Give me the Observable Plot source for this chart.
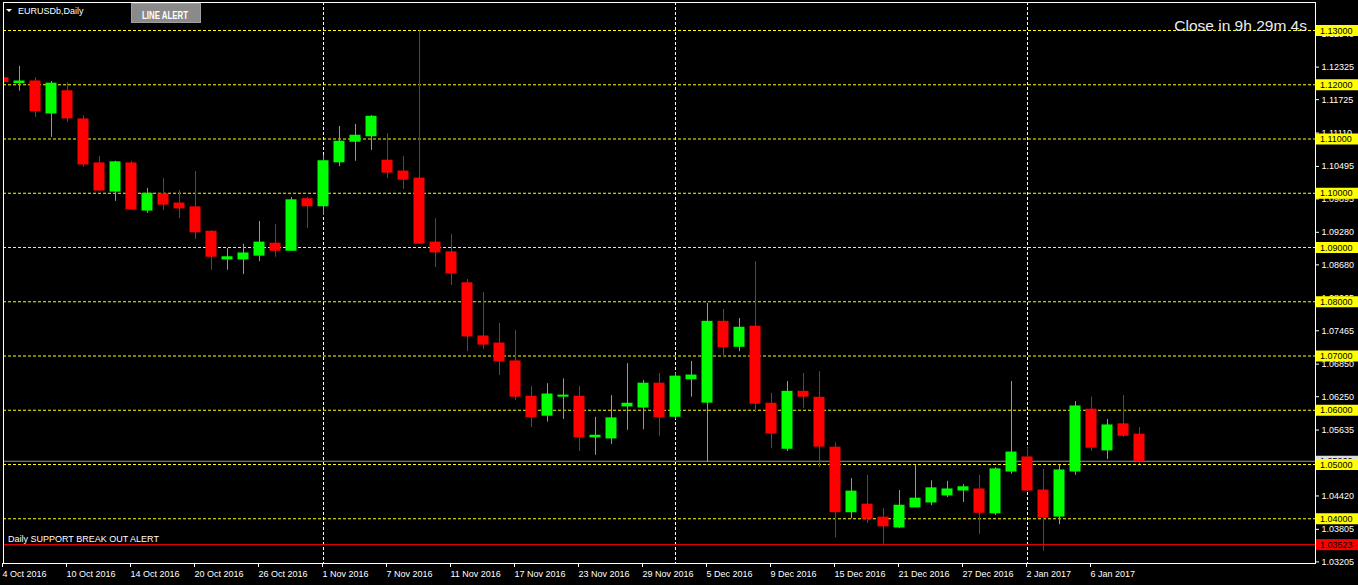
<!DOCTYPE html>
<html><head><meta charset="utf-8">
<script src="https://cdn.jsdelivr.net/npm/d3@7"></script>
<script src="https://cdn.jsdelivr.net/npm/@observablehq/plot@0.6"></script>
<style>
html,body{margin:0;padding:0;background:#000;}
#chart{position:relative;width:1358px;height:585px;overflow:hidden;}
</style></head><body><div id="chart"></div>
<script>
// ---- data ----
const symbolTitle = "EURUSDb,Daily";
const buttonLabel = "LINE ALERT";
const timerText = "Close in 9h 29m 4s";
const alertText = "Daily SUPPORT BREAK OUT ALERT";

const dates = [
"2016-10-04","2016-10-05","2016-10-06","2016-10-07","2016-10-10","2016-10-11","2016-10-12","2016-10-13","2016-10-14","2016-10-17","2016-10-18","2016-10-19","2016-10-20","2016-10-21","2016-10-24","2016-10-25","2016-10-26","2016-10-27","2016-10-28","2016-10-31",
"2016-11-01","2016-11-02","2016-11-03","2016-11-04","2016-11-07","2016-11-08","2016-11-09","2016-11-10","2016-11-11","2016-11-14","2016-11-15","2016-11-16","2016-11-17","2016-11-18","2016-11-21","2016-11-22","2016-11-23","2016-11-24","2016-11-25","2016-11-28","2016-11-29","2016-11-30",
"2016-12-01","2016-12-02","2016-12-05","2016-12-06","2016-12-07","2016-12-08","2016-12-09","2016-12-12","2016-12-13","2016-12-14","2016-12-15","2016-12-16","2016-12-19","2016-12-20","2016-12-21","2016-12-22","2016-12-23","2016-12-26","2016-12-27","2016-12-28","2016-12-29","2016-12-30",
"2017-01-02","2017-01-03","2017-01-04","2017-01-05","2017-01-06","2017-01-09","2017-01-10","2017-01-11"];

const open = [1.1212,1.1203,1.1206,1.1147,1.1188,1.1136,1.1055,1.1003,1.1055,1.0968,1.0998,1.0981,1.0974,1.0929,1.0878,1.0878,1.0885,1.0907,1.0894,1.0989,
1.0976,1.1057,1.1095,1.1105,1.1060,1.1040,1.1027,1.0909,1.0891,1.0834,1.0736,1.0723,1.0690,1.0625,1.0590,1.0625,1.0625,1.0550,1.0548,1.0607,1.0605,1.0649,
1.0588,1.0657,1.0614,1.0763,1.0717,1.0754,1.0612,1.0529,1.0634,1.0623,1.0531,1.0412,1.0426,1.0402,1.0384,1.0421,1.0430,1.0443,1.0452,1.0454,1.0410,1.0487,
1.0513,1.0452,1.0404,1.0487,1.0601,1.0526,1.0574,1.0555];
const high = [1.1240,1.1234,1.1213,1.1206,1.1204,1.1143,1.1068,1.1059,1.1059,1.1009,1.1027,1.1005,1.1040,1.0931,1.0898,1.0906,1.0948,1.0942,1.0992,1.0992,
1.1070,1.1123,1.1127,1.1143,1.1110,1.1068,1.1299,1.0953,1.0924,1.0841,1.0817,1.0760,1.0747,1.0644,1.0649,1.0658,1.0644,1.0587,1.0627,1.0686,1.0655,1.0668,
1.0669,1.0690,1.0797,1.0786,1.0769,1.0874,1.0631,1.0653,1.0668,1.0671,1.0540,1.0474,1.0480,1.0419,1.0452,1.0498,1.0470,1.0469,1.0463,1.0480,1.0494,1.0653,
1.0531,1.0491,1.0498,1.0616,1.0624,1.0583,1.0627,1.0568];
const low = [1.1136,1.1188,1.1140,1.1103,1.1130,1.1048,1.1003,1.0985,1.0969,1.0963,1.0968,1.0953,1.0915,1.0858,1.0858,1.0850,1.0874,1.0882,1.0893,1.0935,
1.0959,1.1049,1.1059,1.1079,1.1027,1.1007,1.0906,1.0863,1.0830,1.0708,1.0712,1.0664,1.0618,1.0568,1.0578,1.0583,1.0524,1.0517,1.0537,1.0563,1.0564,1.0552,
1.0583,1.0624,1.0504,1.0697,1.0708,1.0596,1.0529,1.0524,1.0603,1.0494,1.0365,1.0400,1.0391,1.0353,1.0382,1.0420,1.0424,1.0439,1.0430,1.0371,1.0406,1.0482,
1.0450,1.0340,1.0389,1.0480,1.0524,1.0509,1.0550,1.0500];
const close = [1.1205,1.1206,1.1151,1.1202,1.1138,1.1053,1.1005,1.1057,1.0970,1.0999,1.0979,1.0972,1.0928,1.0883,1.0882,1.0889,1.0909,1.0894,1.0987,1.0976,
1.1059,1.1095,1.1106,1.1141,1.1038,1.1025,1.0907,1.0891,1.0852,1.0736,1.0721,1.0690,1.0625,1.0587,1.0629,1.0627,1.0550,1.0553,1.0585,1.0612,1.0649,1.0587,
1.0662,1.0664,1.0763,1.0716,1.0752,1.0612,1.0557,1.0634,1.0625,1.0533,1.0412,1.0450,1.0400,1.0386,1.0424,1.0437,1.0456,1.0454,1.0458,1.0411,1.0491,1.0522,
1.0452,1.0402,1.0489,1.0607,1.0531,1.0572,1.0553,1.0506];

const levels = [1.13,1.12,1.11,1.10,1.09,1.08,1.07,1.06,1.05,1.04];
const supportLevel = 1.03523;
const priceTicks = [1.12940,1.12325,1.11725,1.11110,1.10495,1.09895,1.09280,1.08680,1.08065,1.07465,1.06850,1.06250,1.05635,1.05035,1.04420,1.03805,1.03205];
const dateTicks = ["2016-10-04","2016-10-10","2016-10-14","2016-10-20","2016-10-26","2016-11-01","2016-11-07","2016-11-11","2016-11-17","2016-11-23","2016-11-29","2016-12-05","2016-12-09","2016-12-15","2016-12-21","2016-12-27","2017-01-02","2017-01-06"];

// ---- build ----
const BULL = "#00ff00", BEAR = "#ff0000";
const rows = dates.map((d, i) => ({i, date: d3.utcParse("%Y-%m-%d")(d), open: open[i], high: high[i], low: low[i], close: close[i]}));
const lastClose = close[close.length - 1];
const monthStarts = rows.filter((r, i) => i > 0 && r.date.getUTCMonth() !== rows[i-1].date.getUTCMonth()).map(r => r.i);
const tickIdx = dateTicks.map(d => dates.indexOf(d));
const fmt = d3.utcFormat("%-d %b %Y");
const col = d => d.close > d.open ? BULL : BEAR;
const FONT = "'Liberation Sans', Arial, sans-serif";

const chart = Plot.plot({
  width: 1358, height: 585,
  marginLeft: 3, marginRight: 43, marginTop: 2, marginBottom: 22,
  style: {background: "#000", color: "#fff", fontFamily: FONT, fontSize: "9px"},
  x: {type: "linear", domain: [0, 71], range: [3, 3 + 16 * 71], axis: null, label: null},
  y: {type: "linear", domain: [1.03, 1.13], range: [572.5, 30], axis: null, label: null},
  marks: [
    Plot.ruleY(levels, {stroke: "#ffff00", strokeDasharray: "3,2"}),
    Plot.ruleX(monthStarts, {stroke: "#ffffff", strokeDasharray: "3,2"}),
    Plot.ruleY([lastClose], {stroke: "#8e98a4"}),
    Plot.ruleY([supportLevel], {stroke: "#ff0000"}),
    Plot.ruleX(rows, {x: "i", y1: "low", y2: "high", stroke: col, clip: "frame"}),
    Plot.rect(rows, {x1: d => d.i - 0.344, x2: d => d.i + 0.344, y1: "open", y2: "close", fill: col, insetTop: -0.5, insetBottom: -0.5, clip: "frame"}),
    Plot.frame({stroke: "#ffffff"}),
    Plot.axisY(priceTicks, {anchor: "right", label: null, tickFormat: d => d.toFixed(5), tickSize: 3, tickPadding: 3, fill: "#fff", stroke: "#fff", fontSize: 9}),
    Plot.axisX(tickIdx, {anchor: "bottom", label: null, tickFormat: i => fmt(rows[i].date), tickSize: 4, tickPadding: 3, textAnchor: "start", dx: -1, fill: "#fff", stroke: "#fff", fontSize: 9})
  ]
});
document.getElementById("chart").appendChild(chart);

// ---- overlays (price labels, header, button, texts) ----
const svg = d3.select(chart);
const ys = chart.scale("y");
const g = svg.append("g").attr("font-family", FONT).attr("font-size", 9).attr("text-anchor", "start");

function priceBox(v, fill, textFill) {
  const yy = ys.apply(v);
  g.append("rect").attr("x", 1316).attr("y", yy - 5).attr("width", 42).attr("height", 11).attr("fill", fill);
  g.append("text").attr("x", 1320).attr("y", yy + 0.5).attr("dy", "0.35em").attr("fill", textFill).text(v.toFixed(5));
}
priceBox(lastClose, "#d8dde2", "#000");
levels.forEach(v => priceBox(v, "#ffff00", "#000"));
priceBox(supportLevel, "#ff0000", "#000");

// header
g.append("path").attr("d", "M6,9 L12,9 L9,12 Z").attr("fill", "#fff");
g.append("text").attr("x", 18).attr("y", 13.5).attr("fill", "#fff").text(symbolTitle);

// button
g.append("rect").attr("x", 131).attr("y", 3).attr("width", 70).attr("height", 20).attr("fill", "#8a8a8a");
g.append("rect").attr("x", 131.5).attr("y", 3.5).attr("width", 69).attr("height", 19).attr("fill", "none").attr("stroke", "#a0a0a0");
g.append("text").attr("x", 142).attr("y", 18.5).attr("fill", "#ffffff").attr("font-weight", "bold").attr("font-size", 11)
  .attr("textLength", 46).attr("lengthAdjust", "spacingAndGlyphs").text(buttonLabel);

// timer
g.append("text").attr("x", 1307).attr("y", 31).attr("text-anchor", "end").attr("fill", "#ececec").attr("font-size", 15.5).text(timerText);

// alert text above support line
g.append("text").attr("x", 8).attr("y", ys.apply(supportLevel) - 2.5).attr("fill", "#fff").text(alertText);
</script></body></html>
